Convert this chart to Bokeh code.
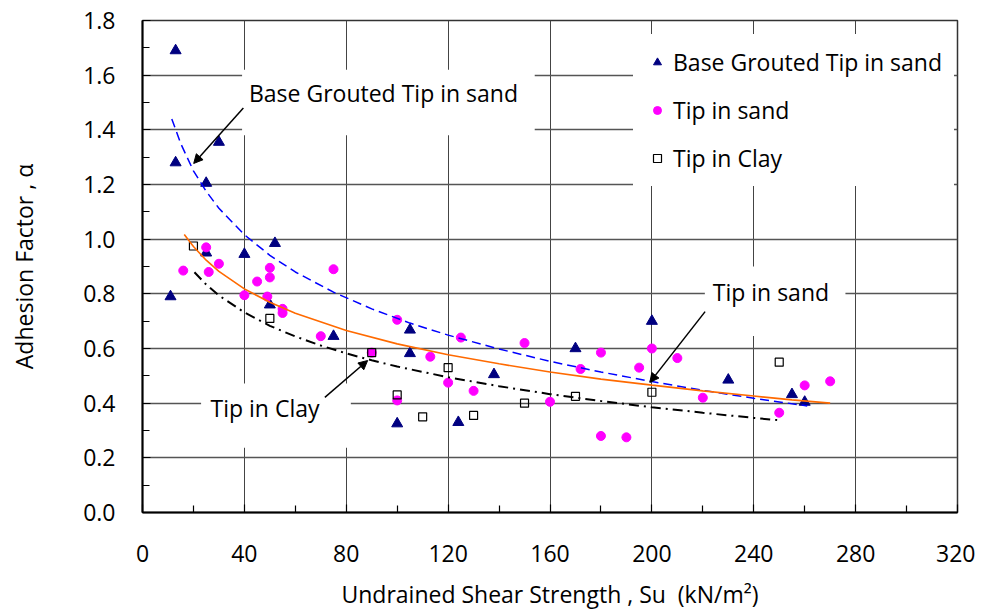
from bokeh.plotting import figure
from bokeh.models import (Legend, LegendItem, Label, Arrow, NormalHead, BoxAnnotation,
                          FixedTicker, NumeralTickFormatter)
from bokeh.embed import file_html
from bokeh.resources import INLINE

FONT = "Open Sans"
FS = "23px"

# ---------------- data ----------------
x_ticks = [0, 40, 80, 120, 160, 200, 240, 280, 320]
x_minor = [20, 60, 100, 140, 180, 220, 260, 300]
y_ticks = [0.0, 0.2, 0.4, 0.6, 0.8, 1.0, 1.2, 1.4, 1.6, 1.8]
y_minor = [0.1, 0.3, 0.5, 0.7, 0.9, 1.1, 1.3, 1.5, 1.7]

# Base Grouted Tip in sand
bg_su = [11, 13, 13, 25, 25, 30, 40, 50, 52, 75, 100, 105, 105, 124, 138, 170, 200, 230, 255, 260]
bg_alpha = [0.79, 1.69, 1.28, 1.205, 0.95, 1.355, 0.945, 0.76, 0.985, 0.645, 0.325, 0.668, 0.582,
            0.33, 0.505, 0.60, 0.70, 0.485, 0.432, 0.404]

# Tip in sand
ts_su = [16, 25, 26, 30, 40, 45, 49, 50, 50, 55, 55, 70, 75, 90, 100, 100, 113, 120, 125, 130,
         150, 160, 172, 180, 180, 190, 195, 200, 210, 220, 250, 260, 270]
ts_alpha = [0.885, 0.97, 0.88, 0.91, 0.795, 0.845, 0.79, 0.895, 0.86, 0.745, 0.73, 0.645, 0.89,
            0.585, 0.705, 0.41, 0.57, 0.475, 0.64, 0.445, 0.62, 0.405, 0.525, 0.585, 0.28, 0.275,
            0.53, 0.60, 0.565, 0.42, 0.365, 0.465, 0.48]

# Tip in Clay
tc_su = [20, 50, 90, 100, 110, 120, 130, 150, 170, 200, 250]
tc_alpha = [0.975, 0.71, 0.585, 0.43, 0.35, 0.53, 0.355, 0.40, 0.425, 0.44, 0.55]

# trend lines
bg_trend_su = [11.5, 15, 20, 25, 30, 40, 50, 60, 75, 90, 105, 120, 140, 160, 180, 200, 220, 240, 261]
bg_trend_alpha = [1.44, 1.35, 1.25, 1.175, 1.113, 1.016, 0.941, 0.88, 0.806, 0.745, 0.693, 0.649,
                  0.598, 0.553, 0.514, 0.479, 0.447, 0.418, 0.39]

ts_trend_su = [16.4, 20, 25, 30, 40, 50, 60, 80, 100, 120, 140, 160, 180, 200, 220, 240, 255, 270]
ts_trend_alpha = [1.017, 0.973, 0.923, 0.882, 0.818, 0.769, 0.729, 0.666, 0.617, 0.577, 0.544,
                  0.514, 0.488, 0.466, 0.445, 0.426, 0.412, 0.40]

tc_trend_su = [20.4, 25, 30, 40, 50, 60, 70, 80, 90, 100, 120, 140, 160, 180, 200, 220, 240, 250.6]
tc_trend_alpha = [0.879, 0.834, 0.794, 0.732, 0.683, 0.644, 0.611, 0.582, 0.557, 0.534, 0.495,
                  0.462, 0.433, 0.408, 0.385, 0.365, 0.346, 0.337]

# ---------------- figure ----------------
p = figure(width=975, height=612, x_range=(0, 320), y_range=(0, 1.8),
           output_backend="svg", toolbar_location=None,
           min_border_left=142, min_border_right=18, min_border_top=20, min_border_bottom=100,
           background_fill_color="white", border_fill_color="white")

p.outline_line_color = "#333333"
p.outline_line_width = 1.5

# axes
p.xaxis.ticker = FixedTicker(ticks=x_ticks, minor_ticks=x_minor)
p.yaxis.ticker = FixedTicker(ticks=y_ticks, minor_ticks=y_minor)
p.yaxis.formatter = NumeralTickFormatter(format="0.0")
for ax in (p.xaxis[0], p.yaxis[0]):
    ax.axis_line_color = "black"
    ax.axis_line_width = 2
    ax.major_tick_in = 8
    ax.major_tick_out = 0
    ax.minor_tick_in = 7
    ax.minor_tick_out = 0
    ax.major_tick_line_color = "black"
    ax.minor_tick_line_color = "black"
    ax.major_tick_line_width = 1.2
    ax.minor_tick_line_width = 1.2
    ax.major_label_text_font = FONT
    ax.major_label_text_font_size = FS
    ax.major_label_text_color = "black"
    ax.axis_label_text_font = FONT
    ax.axis_label_text_font_size = FS
    ax.axis_label_text_font_style = "normal"
    ax.axis_label_text_color = "black"

p.xaxis.axis_label = "Undrained Shear Strength , Su\u00a0\u00a0(kN/m\u00b2)"
p.yaxis.axis_label = "Adhesion Factor , \u03b1"
p.xaxis.major_label_standoff = 32
p.xaxis.axis_label_standoff = 13
p.yaxis.major_label_standoff = 27
p.yaxis.axis_label_standoff = 40

p.xgrid.ticker = FixedTicker(ticks=x_ticks)
p.ygrid.ticker = FixedTicker(ticks=y_ticks)
p.xgrid.grid_line_color = "#444444"
p.ygrid.grid_line_color = "#555555"
p.xgrid.grid_line_width = 1
p.ygrid.grid_line_width = 1.3

# white boxes behind annotation texts (cover grid lines)
for (l, r, b, t) in [(39.1, 154.0, 1.38, 1.62), (23.0, 81.8, 0.237, 0.472), (220.8, 276.0, 0.646, 0.90)]:
    p.add_layout(BoxAnnotation(left=l, right=r, bottom=b, top=t, fill_color="white", fill_alpha=1,
                               line_alpha=0, level="underlay"))

# scatter series
r_bg = p.scatter(bg_su, bg_alpha, marker="triangle", size=11, fill_color="#000080", line_color="#000080")
r_ts = p.scatter(ts_su, ts_alpha, marker="circle", size=9, fill_color="#FF00FF", line_color="#FF00FF")
r_tc = p.scatter(tc_su, tc_alpha, marker="square", size=8, fill_alpha=0, line_color="black", line_width=1.2)

# trend lines
p.line(bg_trend_su, bg_trend_alpha, line_color="#0000FF", line_width=1.5, line_dash="9 5")
p.line(ts_trend_su, ts_trend_alpha, line_color="#FF6A00", line_width=1.6)
p.line(tc_trend_su, tc_trend_alpha, line_color="black", line_width=2, line_dash="10 5 2 5")

# legend
legend = Legend(items=[LegendItem(label="Base Grouted Tip in sand", renderers=[r_bg]),
                       LegendItem(label="Tip in sand", renderers=[r_ts]),
                       LegendItem(label="Tip in Clay", renderers=[r_tc])],
                location=(491, 326), padding=12, spacing=16, label_height=24, glyph_height=20,
                glyph_width=24, label_standoff=4, border_line_alpha=0,
                background_fill_color="white", background_fill_alpha=1,
                label_text_font=FONT, label_text_font_size=FS, label_text_color="black",
                margin=0)
p.add_layout(legend)

# annotation labels and arrows
for (txt, x, y) in [("Base Grouted Tip in sand", 41.8, 1.534), ("Tip in Clay", 26.7, 0.384),
                    ("Tip in sand", 223.9, 0.805)]:
    p.add_layout(Label(x=x, y=y, text=txt, text_font=FONT, text_font_size=FS,
                       text_baseline="middle", text_align="left", text_color="black"))

for (xs, ys, xe, ye) in [(39.6, 1.48, 20.1, 1.277), (71.6, 0.421, 88.4, 0.556), (220.9, 0.735, 199.2, 0.476)]:
    p.add_layout(Arrow(end=NormalHead(size=9, fill_color="black", line_color="black"),
                       x_start=xs, y_start=ys, x_end=xe, y_end=ye,
                       line_color="black", line_width=1.5))

open("out.html", "w").write(file_html(p, INLINE))
